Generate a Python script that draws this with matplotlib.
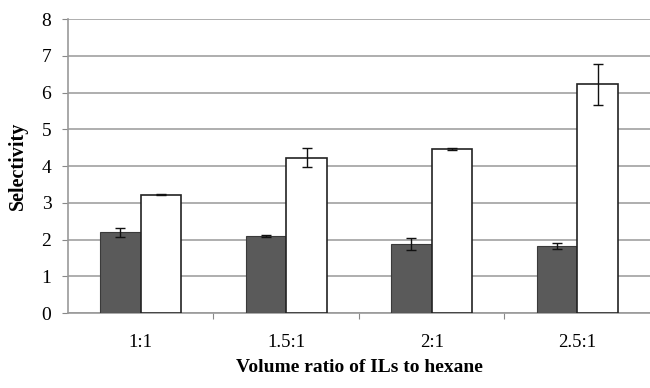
import matplotlib
matplotlib.use("Agg")
import matplotlib.pyplot as plt
import numpy as np

categories = ["1:1", "1.5:1", "2:1", "2.5:1"]
dark_vals = [2.20, 2.10, 1.88, 1.83]
dark_err = [0.12, 0.02, 0.17, 0.09]
white_vals = [3.22, 4.23, 4.47, 6.22]
white_err = [0.02, 0.25, 0.02, 0.55]
y_ticks = [0, 1, 2, 3, 4, 5, 6, 7, 8]

plt.rcParams['font.family'] = ['Liberation Serif', 'DejaVu Serif']

fig = plt.figure(figsize=(6.5, 3.88), dpi=100)
ax = fig.add_axes([0.1046, 0.193, 0.8954, 0.758])

x = np.arange(len(categories)) + 0.5
w = 0.28
ax.bar(x - w / 2, dark_vals, w, color="#5a5a5a", edgecolor="#3a3a3a", linewidth=0.8,
       yerr=dark_err, error_kw=dict(ecolor="#111111", elinewidth=1.0, capsize=3.5, capthick=1.0), zorder=3)
ax.bar(x + w / 2, white_vals, w, color="white", edgecolor="#222222", linewidth=1.2,
       yerr=white_err, error_kw=dict(ecolor="#111111", elinewidth=1.0, capsize=3.5, capthick=1.0), zorder=3)

ax.set_xlim(0, len(categories))
ax.set_ylim(0, 8)
ax.set_yticks(y_ticks)
ax.set_yticklabels([str(t) for t in y_ticks], fontsize=14)
ax.set_xticks(np.arange(1, len(categories)))
ax.set_xticklabels([])
ax.set_xticks(x, minor=True)
ax.set_xticklabels(categories, minor=True, fontsize=13.5)
ax.tick_params(axis='x', which='minor', length=0, pad=15)
ax.tick_params(axis='x', which='major', length=4, color="#888888", direction='out')
ax.tick_params(axis='y', length=4, color="#888888", direction='out', pad=8)

ax.yaxis.grid(True, color="#a8a8a8", linewidth=1.3, zorder=0)
ax.set_axisbelow(True)
for s in ["top", "right"]:
    ax.spines[s].set_visible(False)
ax.spines["left"].set_color("#999999")
ax.spines["bottom"].set_color("#999999")
ax.spines["left"].set_linewidth(1.2)
ax.spines["bottom"].set_linewidth(1.2)

ax.set_ylabel("Selectivity", fontsize=14.5, fontweight="bold", labelpad=10)
ax.set_xlabel("Volume ratio of ILs to hexane", fontsize=14, fontweight="bold", labelpad=6)

fig.savefig("out.png", dpi=100)
